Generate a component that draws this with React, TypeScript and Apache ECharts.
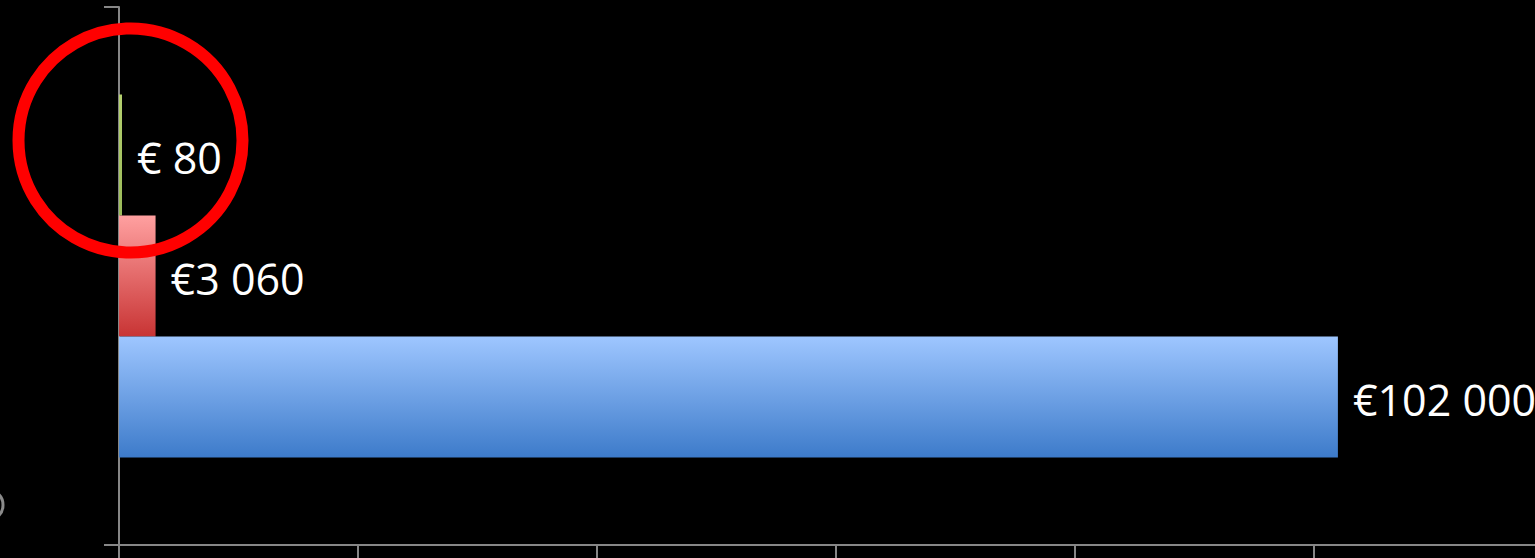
import React, { useEffect, useRef } from "react";
import * as echarts from "echarts";

const categories = ["Total"];
const seriesNames = ["Green", "Red", "Blue"];
const seriesValues = [80, 3060, 102000];
const valueLabels = ["€ 80", "€3 060", "€102 000"];
const xTicks = [0, 20000, 40000, 60000, 80000, 100000, 120000];

const gradients = [
  ["#b5d16f", "#9bbb59"],
  ["#ffa0a0", "#c83434"],
  ["#9ec6ff", "#3d7bca"],
];

export default function App() {
  const ref = useRef<HTMLDivElement>(null);
  useEffect(() => {
    if (!ref.current) return;
    const chart = echarts.init(ref.current, undefined, { renderer: "svg" });
    const axisColor = "#878787";
    chart.setOption({
      animation: false,
      backgroundColor: "#000000",
      grid: { left: 119, top: 7, width: 1434, height: 538, outerBoundsMode: "none", containLabel: false },
      xAxis: {
        type: "value",
        min: xTicks[0],
        max: xTicks[xTicks.length - 1],
        interval: xTicks[1] - xTicks[0],
        axisLine: { show: true, lineStyle: { color: axisColor, width: 2 } },
        axisTick: { show: true, length: 15, lineStyle: { color: axisColor, width: 2 } },
        axisLabel: { show: false },
        splitLine: { show: false },
      },
      yAxis: {
        type: "category",
        data: categories,
        axisLine: { show: true, lineStyle: { color: axisColor, width: 2 } },
        axisTick: { show: true, length: 15, lineStyle: { color: axisColor, width: 2 } },
        axisLabel: { show: false },
      },
      series: seriesValues.map((v, i) => ({
        name: seriesNames[i],
        type: "bar",
        data: [v],
        barWidth: 121,
        barGap: "0%",
        barMinHeight: 3,
        z: 3,
        itemStyle: {
          color: new echarts.graphic.LinearGradient(0, 0, 0, 1, [
            { offset: 0, color: gradients[i][0] },
            { offset: 1, color: gradients[i][1] },
          ]),
        },
        label: {
          show: true,
          position: "right",
          distance: 15,
          formatter: () => valueLabels[i],
          color: "#ffffff",
          fontFamily: "Open Sans",
          fontSize: 43,
          offset: [0, 2],
        },
      })),
      graphic: [
        {
          type: "circle",
          shape: { cx: 130.5, cy: 140.5, r: 112 },
          style: { fill: "none", stroke: "#ff0000", lineWidth: 12 },
          z: 100,
        },
        {
          type: "arc",
          shape: { cx: -12, cy: 505, r: 15, startAngle: -Math.PI / 3, endAngle: Math.PI / 3 },
          style: { fill: "none", stroke: "#8a8a8a", lineWidth: 3 },
        },
      ],
    });
    return () => chart.dispose();
  }, []);
  return (
    <div
      ref={ref}
      style={{ position: "fixed", left: 0, top: 0, width: 1535, height: 558 }}
    />
  );
}
